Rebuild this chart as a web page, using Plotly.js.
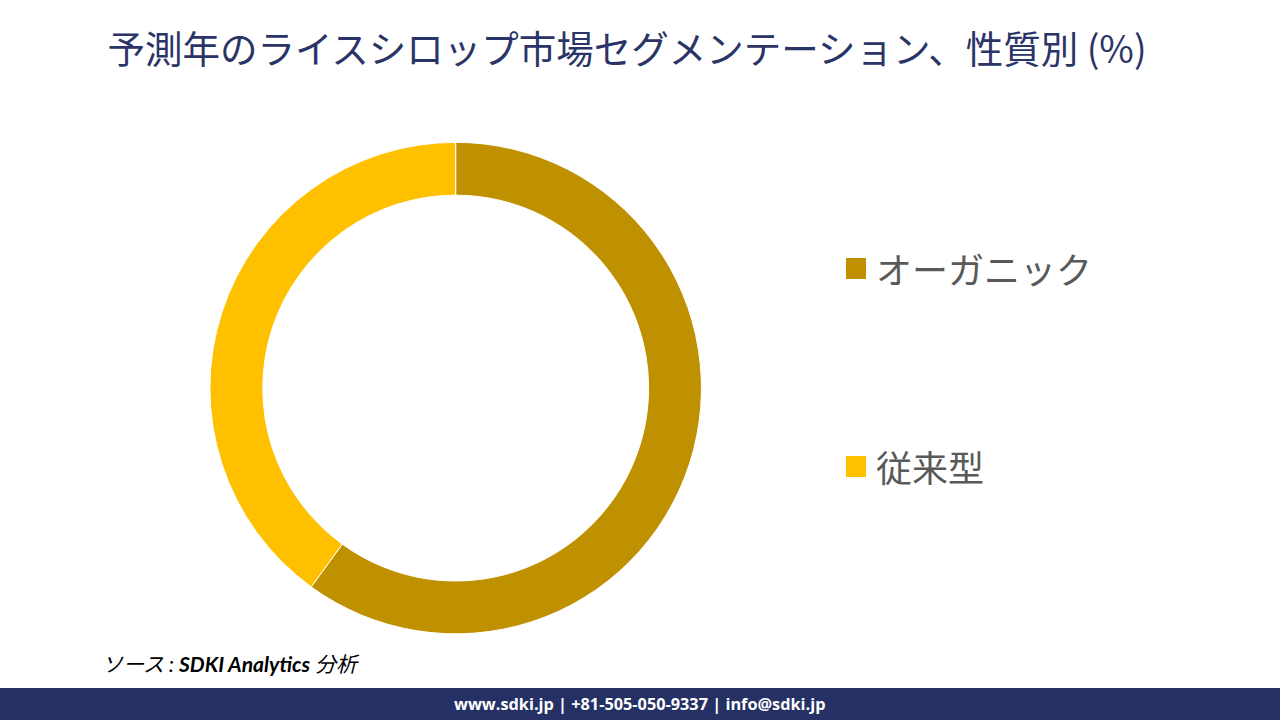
<!DOCTYPE html>
<html>
<head>
<meta charset="utf-8">
<script src="https://cdn.plot.ly/plotly-3.0.1.min.js"></script>
<style>
html,body{margin:0;padding:0;background:#fff;}
#chart{width:1280px;height:720px;}
</style>
</head>
<body>
<div id="chart"></div>
<script>
const labels = ["オーガニック", "従来型"];
const values = [60, 40];
const colors = ["#BF9000", "#FFC000"];
const titleText = "予測年のライスシロップ市場セグメンテーション、性質別 (%)";
const sourceText = "ソース : <b>SDKI Analytics</b> 分析";
const footerText = "www.sdki.jp | +81-505-050-9337 | info@sdki.jp";

const trace = {
  type: "pie",
  labels: labels,
  values: values,
  hole: 0.785,
  sort: false,
  direction: "clockwise",
  rotation: 0,
  textinfo: "none",
  hoverinfo: "label+percent",
  marker: {colors: colors, line: {color: "#ffffff", width: 1}},
  domain: {x: [0.164, 0.548], y: [0.119, 0.803]},
  showlegend: false
};

const legendY = [268, 466];
const shapes = [
  {type: "rect", xref: "paper", yref: "paper", x0: 0, x1: 1, y0: 0, y1: 32/720,
   fillcolor: "#253165", line: {width: 0}, layer: "below"}
];
const annotations = [
  {text: "<i>" + sourceText + "</i>", xref: "paper", yref: "paper", x: 100/1280, y: 1 - 663/720,
   xanchor: "left", yanchor: "middle", showarrow: false,
   font: {family: "Lato, 'Noto Sans CJK JP', sans-serif", size: 21, color: "#000"}},
  {text: "<b>" + footerText + "</b>", xref: "paper", yref: "paper", x: 639/1280, y: 16/720,
   xanchor: "center", yanchor: "middle", showarrow: false,
   font: {family: "'Open Sans', 'Liberation Sans', sans-serif", size: 16.3, color: "#fff"}}
];
labels.forEach((lab, i) => {
  const yc = legendY[i];
  shapes.push({type: "rect", xref: "paper", yref: "paper",
    x0: 846/1280, x1: 866/1280, y0: 1 - (yc + 11)/720, y1: 1 - (yc - 10)/720,
    fillcolor: colors[i], line: {width: 0}});
  annotations.push({text: lab, xref: "paper", yref: "paper", x: 874/1280, y: 1 - yc/720,
    xanchor: "left", yanchor: "middle", showarrow: false,
    font: {family: "'Noto Sans CJK JP', sans-serif", size: 36, color: "#595959"}});
});

const layout = {
  width: 1280, height: 720,
  margin: {l: 0, r: 0, t: 0, b: 0},
  paper_bgcolor: "#ffffff",
  title: {text: titleText, x: 627/1280, xanchor: "center", y: 1 - 50/720, yanchor: "middle",
    font: {family: "'Noto Sans CJK JP', sans-serif", size: 37.5, color: "#2B3467"}},
  shapes: shapes,
  annotations: annotations
};

Plotly.newPlot("chart", [trace], layout, {displayModeBar: false});
</script>
</body>
</html>
